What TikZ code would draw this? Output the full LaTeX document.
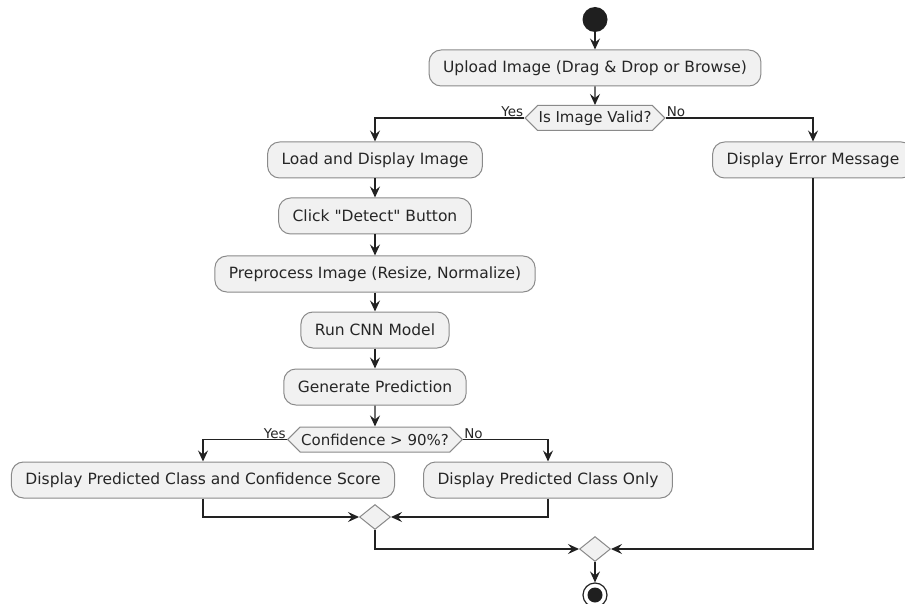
\documentclass[tikz,border=0pt]{standalone}
\usepackage{fontspec}
\setmainfont{DejaVu Sans}[Ligatures=TeXOff]
\usetikzlibrary{arrows.meta,shapes.geometric,shapes.symbols}
\definecolor{boxfill}{HTML}{F1F1F1}
\definecolor{boxline}{HTML}{8A8A8A}
\definecolor{lineclr}{HTML}{222222}
\tikzset{
  actbox/.style={draw=boxline, fill=boxfill, line width=1pt, rounded corners=12pt,
    minimum height=36pt, inner xsep=14pt, inner ysep=0pt,
    font=\fontsize{15.5}{18}\selectfont, text=black!85},
  hexbox/.style={shape=signal, signal to=east and west, signal pointer angle=90,
    draw=boxline, fill=boxfill, line width=1pt, minimum height=25pt,
    inner xsep=1pt, inner ysep=2pt, font=\fontsize{15}{18}\selectfont, text=black!85},
  mergebox/.style={shape=diamond, draw=boxline, fill=boxfill, line width=1pt,
    minimum width=31pt, minimum height=25pt, inner sep=0pt},
  arr/.style={draw=lineclr, line width=1.1pt, -{Stealth[length=11pt,width=10pt,inset=4pt]}},
  lbl/.style={font=\fontsize{13.5}{15}\selectfont, text=black!85, inner sep=1pt}
}
\begin{document}
\begin{tikzpicture}[x=1pt,y=-1pt]
\useasboundingbox (0,0) rectangle (905,604);
\clip (0,0) rectangle (905,604);
\fill[white] (0,0) rectangle (905,604);
% start
\node[circle, fill=black!88, minimum size=25pt, inner sep=0pt] (start) at (595,19.5) {};
\node[actbox] (upload) at (595,68) {Upload Image (Drag \& Drop or Browse)};
\node[hexbox] (valid) at (595,118) {Is Image Valid?};
\node[actbox] (load) at (375,160) {Load and Display Image};
\node[actbox] (err) at (813,160) {Display Error Message};
\node[actbox] (click) at (375,216) {Click "Detect" Button};
\node[actbox] (prep) at (375,274) {Preprocess Image (Resize, Normalize)};
\node[actbox] (cnn) at (375,330) {Run CNN Model};
\node[actbox] (gen) at (375,387) {Generate Prediction};
\node[hexbox] (conf) at (375,439.5) {Confidence > 90\%?};
\node[actbox] (full) at (203,480) {Display Predicted Class and Confidence Score};
\node[actbox] (only) at (548,480) {Display Predicted Class Only};
\node[mergebox] (m1) at (375,517) {};
\node[mergebox] (m2) at (595,549) {};
\node[circle, draw=lineclr, line width=1.2pt, fill=white, minimum size=24pt, inner sep=0pt] (stop) at (595,595) {};
\fill[black!88] (stop.center) circle (7.5pt);
% labels
\node[lbl, anchor=south east] (yes1) at (valid.west) {Yes};
\node[lbl, anchor=south west] (no1) at (valid.east) {No};
\node[lbl, anchor=south east] (yes2) at (conf.west) {Yes};
\node[lbl, anchor=south west] (no2) at (conf.east) {No};
% connectors
\draw[arr] (start) -- (upload);
\draw[arr] (upload) -- (valid);
\draw[arr] (valid.west) -| (load.north);
\draw[arr] (valid.east) -| (err.north);
\draw[arr] (load) -- (click);
\draw[arr] (click) -- (prep);
\draw[arr] (prep) -- (cnn);
\draw[arr] (cnn) -- (gen);
\draw[arr] (gen) -- (conf);
\draw[arr] (conf.west) -| (full.north);
\draw[arr] (conf.east) -| (only.north);
\draw[arr] (full.south) |- (m1.west);
\draw[arr] (only.south) |- (m1.east);
\draw[arr] (m1.south) |- (m2.west);
\draw[arr] (err.south) |- (m2.east);
\draw[arr] (m2) -- (stop);
\end{tikzpicture}
\end{document}
